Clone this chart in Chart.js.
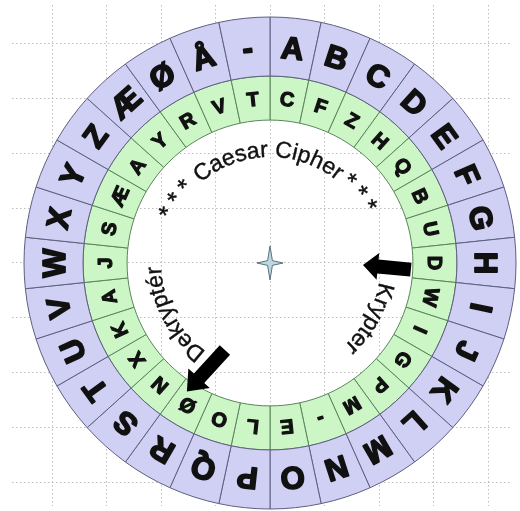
<!DOCTYPE html>
<html>
<head>
<meta charset="utf-8">
<script src="https://cdn.jsdelivr.net/npm/chart.js@4.4.1/dist/chart.umd.min.js"></script>
<style>
  html, body { margin: 0; padding: 0; background: #ffffff; }
  #wrap { position: relative; width: 520px; height: 511px; overflow: hidden; }
  #wrap canvas { position: absolute; left: 0; top: 0; }
</style>
</head>
<body>
<div id="wrap">
  <canvas id="grid" width="520" height="511"></canvas>
  <canvas id="wheel" width="520" height="511"></canvas>
</div>
<script>
// ---- data ----
const outerLetters = ['A','B','C','D','E','F','G','H','I','J','K','L','M','N','O','P','Q','R','S','T','U','V','W','X','Y','Z','Æ','Ø','Å','-'];
const innerLetters = ['C','F','Z','H','Q','B','U','D','W','I','G','P','M','-','E','L','O','Ø','N','X','K','A','J','S','Æ','A','Y','R','V','T'];
const segmentValues = [1,1,1,1,1,1,1,1,1,1,1,1,1,1,1,1,1,1,1,1,1,1,1,1,1,1,1,1,1,1];
const gridTicks = [-4,-3,-2,-1,0,1,2,3,4];
const titleText = 'Caesar Cipher';
const encryptText = 'Krypter';
const decryptText = 'Dekryptér';
const starAngles = [-154,-146,-138,-46,-38,-30];

// ---- background grid chart ----
function gridAxis(min, max) {
  return {
    type: 'linear', min: min, max: max,
    afterBuildTicks: s => { s.ticks = gridTicks.map(v => ({ value: v })); },
    ticks: { display: false },
    grid: { color: '#bdbdbd', lineWidth: 1, drawTicks: false },
    border: { display: false, dash: [1.5, 2.5] }
  };
}
new Chart(document.getElementById('grid'), {
  type: 'scatter',
  data: { datasets: [{ data: [] }] },
  options: {
    responsive: false, animation: false, devicePixelRatio: 1,
    layout: { padding: { left: 12, right: 8, top: 5, bottom: 5 } },
    plugins: { legend: { display: false }, tooltip: { enabled: false } },
    scales: { x: gridAxis(-4.734, 4.44), y: gridAxis(-4.426, 4.699) }
  }
});

// ---- helpers ----
const D2R = Math.PI / 180;
function arcText(ctx, cx, cy, text, r, centerDeg, font) {
  ctx.save();
  ctx.font = font;
  ctx.fillStyle = '#111';
  ctx.strokeStyle = '#111';
  ctx.lineWidth = 0.4;
  ctx.textAlign = 'center';
  ctx.textBaseline = 'alphabetic';
  const total = ctx.measureText(text).width;
  let a = centerDeg * D2R - total / (2 * r);
  for (const ch of text) {
    const w = ctx.measureText(ch).width;
    const ang = a + (w / 2) / r;
    ctx.save();
    ctx.translate(cx + r * Math.cos(ang), cy + r * Math.sin(ang));
    ctx.rotate(ang + Math.PI / 2);
    ctx.fillText(ch, 0, 0);
    ctx.strokeText(ch, 0, 0);
    ctx.restore();
    a += w / r;
  }
  ctx.restore();
}
function polar(cx, cy, r, deg) {
  return [cx + r * Math.cos(deg * D2R), cy + r * Math.sin(deg * D2R)];
}
function arrow(ctx, cx, cy, tailR, tailA, tipR, tipA, shaftW, headW, headL) {
  const [tx, ty] = polar(cx, cy, tailR, tailA);
  const [px, py] = polar(cx, cy, tipR, tipA);
  const len = Math.hypot(px - tx, py - ty);
  const ux = (px - tx) / len, uy = (py - ty) / len;
  const nx = -uy, ny = ux;
  const bx = px - ux * headL, by = py - uy * headL;
  ctx.save();
  ctx.fillStyle = '#000';
  ctx.beginPath();
  ctx.moveTo(tx + nx * shaftW / 2, ty + ny * shaftW / 2);
  ctx.lineTo(bx + nx * shaftW / 2, by + ny * shaftW / 2);
  ctx.lineTo(bx + nx * headW / 2, by + ny * headW / 2);
  ctx.lineTo(px, py);
  ctx.lineTo(bx - nx * headW / 2, by - ny * headW / 2);
  ctx.lineTo(bx - nx * shaftW / 2, by - ny * shaftW / 2);
  ctx.lineTo(tx - nx * shaftW / 2, ty - ny * shaftW / 2);
  ctx.closePath();
  ctx.fill();
  ctx.restore();
}

const wheelDecor = {
  id: 'wheelDecor',
  afterDatasetsDraw(chart) {
    const ctx = chart.ctx;
    let cx = 0, cy = 0;
    chart.data.datasets.forEach((ds, di) => {
      const meta = chart.getDatasetMeta(di);
      const letters = di === 0 ? outerLetters : innerLetters;
      const size = di === 0 ? 31 : 20;
      meta.data.forEach((arc, i) => {
        const p = arc.getProps(['x','y','startAngle','endAngle','innerRadius','outerRadius'], true);
        cx = p.x; cy = p.y;
        const a = (p.startAngle + p.endAngle) / 2;
        const r = (p.innerRadius + p.outerRadius) / 2;
        ctx.save();
        ctx.translate(p.x + r * Math.cos(a), p.y + r * Math.sin(a));
        ctx.rotate(a + Math.PI / 2);
        ctx.font = 'bold ' + size + 'px "Liberation Sans", Arial, sans-serif';
        ctx.textAlign = 'center';
        ctx.textBaseline = 'alphabetic';
        ctx.fillStyle = '#111';
        ctx.strokeStyle = '#111';
        ctx.lineWidth = di === 0 ? 1.8 : 1.2;
        ctx.lineJoin = 'round';
        const off = size * 0.36;
        ctx.fillText(letters[i], 0, off);
        ctx.strokeText(letters[i], 0, off);
        ctx.restore();
      });
    });
    const font = '23px "Liberation Sans", Arial, sans-serif';
    arcText(ctx, cx, cy, titleText, 106, -91, font);
    arcText(ctx, cx, cy, encryptText, 111, 29, font);
    arcText(ctx, cx, cy, decryptText, 109, 152, font);
    starAngles.forEach(d => arcText(ctx, cx, cy, '*', 106, d, '25px "Liberation Sans", Arial, sans-serif'));
    arrow(ctx, cx, cy, 141, 2.7, 93, 1.2, 14, 27, 15);
    arrow(ctx, cx, cy, 98, 117.4, 153, 122.9, 14, 29, 18);
    // center star
    ctx.save();
    ctx.translate(cx, cy);
    ctx.beginPath();
    ctx.moveTo(0, -17); ctx.lineTo(2.4, -2.4); ctx.lineTo(13, 0); ctx.lineTo(2.4, 2.4);
    ctx.lineTo(0, 17); ctx.lineTo(-2.4, 2.4); ctx.lineTo(-13, 0); ctx.lineTo(-2.4, -2.4);
    ctx.closePath();
    ctx.fillStyle = '#bcd8e0';
    ctx.fill();
    ctx.strokeStyle = '#58727c';
    ctx.lineWidth = 1;
    ctx.stroke();
    ctx.restore();
  }
};

new Chart(document.getElementById('wheel'), {
  type: 'doughnut',
  data: {
    labels: outerLetters,
    datasets: [
      { data: segmentValues, backgroundColor: '#d0d0f4', borderColor: '#5e5e80', borderWidth: 1, weight: 59 },
      { data: segmentValues, backgroundColor: '#cdf6c6', borderColor: '#5a855a', borderWidth: 1, weight: 44 }
    ]
  },
  options: {
    responsive: false, animation: false, devicePixelRatio: 1,
    radius: 246, cutout: '58.1%',
    layout: { padding: { left: 20, right: 0, top: 15, bottom: 0 } },
    plugins: { legend: { display: false }, tooltip: { enabled: false } }
  },
  plugins: [wheelDecor]
});
</script>
</body>
</html>
